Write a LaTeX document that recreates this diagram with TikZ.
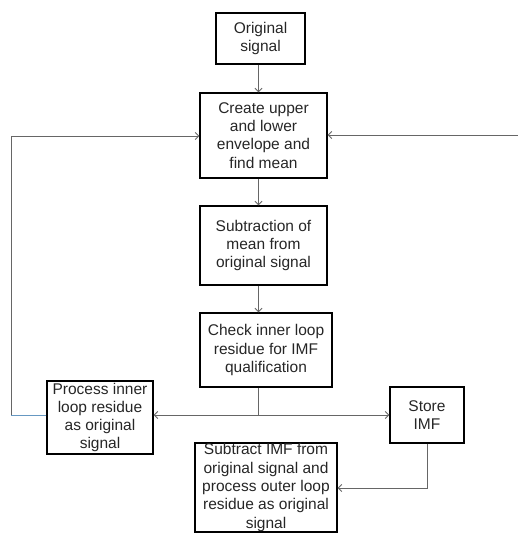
\documentclass[tikz,border=0pt]{standalone}
\usepackage{fontspec}
\setmainfont{Liberation Sans}
\usetikzlibrary{arrows.meta}
\begin{document}
\begin{tikzpicture}[x=1pt,y=-1pt,
  box/.style={draw=black,line width=1.4pt,rectangle,inner sep=0pt},
  txt/.style={align=center,font=\fontsize{15.5}{18.3}\selectfont,inner sep=0pt,text=black!85},
  conn/.style={draw=black!60,line width=0.9pt},
  arr/.style={conn,-{Straight Barb[length=3.5pt,width=7pt]}}]
\useasboundingbox (0,0) rectangle (518,535);
% boxes
\node[box,minimum width=89pt,minimum height=51pt] (orig) at (260.5,38.5) {};
\node[box,minimum width=127pt,minimum height=85pt] (create) at (263.5,135.5) {};
\node[box,minimum width=127pt,minimum height=79pt] (sub) at (263.5,245.5) {};
\node[box,minimum width=132pt,minimum height=74pt] (check) at (266,350) {};
\node[box,minimum width=106pt,minimum height=73pt] (proc) at (100,417.5) {};
\node[box,minimum width=74pt,minimum height=56pt] (store) at (427,415) {};
\node[box,minimum width=142pt,minimum height=89pt] (subimf) at (266,487.5) {};
% texts
\node[txt] (torig) at (orig.center) {Original\\signal};
\node[txt] (tcreate) at (create.center) {Create upper\\and lower\\envelope and\\find mean};
\node[txt] (tsub) at (sub.center) {Subtraction of\\mean from\\original signal};
\node[txt] (tcheck) at (check.center) {Check inner loop\\residue for IMF\\qualification};
\node[txt] (tproc) at (proc.center) {Process inner\\loop residue\\as original\\signal};
\node[txt] (tstore) at (store.center) {Store\\IMF};
\node[txt] (tsubimf) at (subimf.center) {Subtract IMF from\\original signal and\\process outer loop\\residue as original\\signal};
% coordinates
\coordinate (spine) at (258.5,0);
\coordinate (mid) at (258.5,415);
\coordinate (L1) at (11,415);
\coordinate (L2) at (11,136);
\coordinate (R) at (518,135);
\coordinate (S) at (427,488);
% connectors
\draw[arr] (orig.south -| spine) -- (create.north -| spine);
\draw[arr] (create.south -| spine) -- (sub.north -| spine);
\draw[arr] (sub.south -| spine) -- (check.north -| spine);
\draw[conn] (check.south -| spine) -- (mid);
\draw[arr] (mid) -- (proc.east |- mid);
\draw[arr] (mid) -- (store.west |- mid);
\draw[draw=blue!45!cyan!60!black!60,line width=0.9pt] (proc.west |- mid) -- (L1);
\draw[arr] (L1) -- (L2) -- (create.west |- L2);
\draw[arr] (R) -- (create.east |- R);
\draw[arr] (store.south) -- (S) -- (subimf.east |- S);
\end{tikzpicture}
\end{document}
